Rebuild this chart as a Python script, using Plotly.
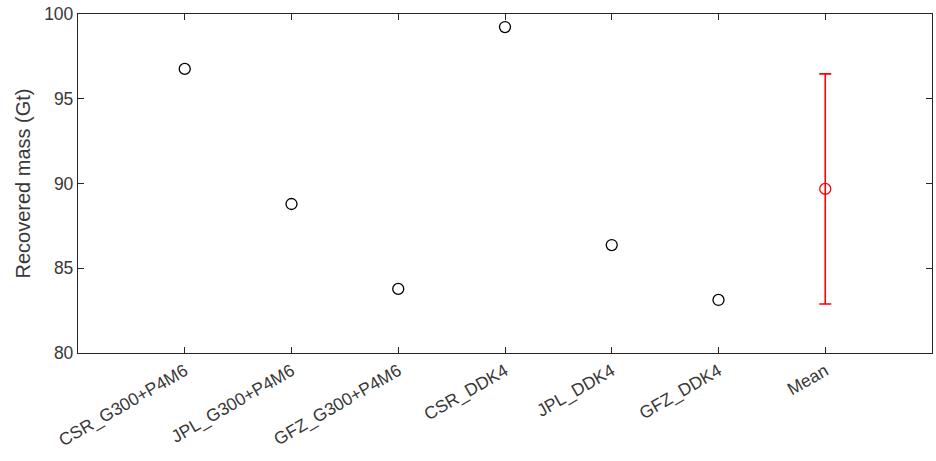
import plotly.graph_objects as go

categories = ["CSR_G300+P4M6", "JPL_G300+P4M6", "GFZ_G300+P4M6", "CSR_DDK4", "JPL_DDK4", "GFZ_DDK4"]
values = [96.76, 88.79, 83.78, 99.23, 86.37, 83.13]
mean_label = "Mean"
mean_value = 89.68
mean_std = 6.79

all_labels = categories + [mean_label]
pos = list(range(1, len(all_labels) + 1))

fig = go.Figure()
fig.add_trace(go.Scatter(
    x=pos[:len(categories)], y=values, mode="markers",
    marker=dict(symbol="circle-open", size=11, color="black", line=dict(width=1.3)),
    showlegend=False,
))
fig.add_trace(go.Scatter(
    x=[pos[-1]], y=[mean_value], mode="markers",
    marker=dict(symbol="circle-open", size=11, color="red", line=dict(width=1.3)),
    error_y=dict(type="data", array=[mean_std], color="red", thickness=1.6, width=6),
    showlegend=False,
))

axis_color = "#262626"
text_color = "#383838"
fig.update_layout(
    width=936, height=461,
    margin=dict(l=78, r=4, t=14, b=108),
    paper_bgcolor="white", plot_bgcolor="white",
    font=dict(family="Liberation Sans, Arial, sans-serif", size=17.5, color=text_color),
    xaxis=dict(
        range=[0, 8], tickmode="array", tickvals=pos, ticktext=all_labels,
        tickangle=-30, ticks="inside", ticklen=6, tickcolor=axis_color, tickwidth=1.2,
        showline=True, linecolor=axis_color, linewidth=1.3, mirror="ticks",
        showgrid=False, zeroline=False, tickfont=dict(size=17.5),
    ),
    yaxis=dict(
        range=[80, 100], tickvals=[80, 85, 90, 95, 100],
        ticks="inside", ticklen=6, tickcolor=axis_color, tickwidth=1.2,
        showline=True, linecolor=axis_color, linewidth=1.3, mirror="ticks",
        showgrid=False, zeroline=False, tickfont=dict(size=17.5),
        title=dict(text="Recovered mass (Gt)", font=dict(size=20), standoff=8),
    ),
)

fig.write_html("out.html")
